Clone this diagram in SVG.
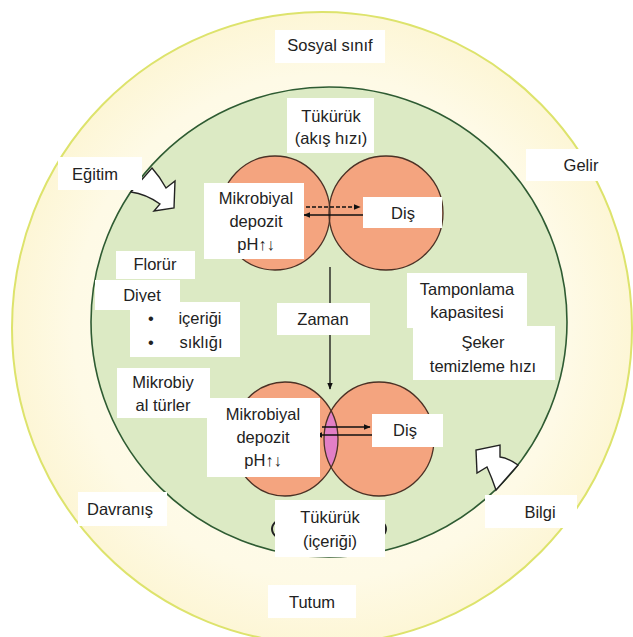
<svg xmlns="http://www.w3.org/2000/svg" width="633" height="637" viewBox="0 0 633 637">
<defs>
  <radialGradient id="yg" cx="50%" cy="50%" r="50%">
    <stop offset="0" stop-color="#fffdf2"/>
    <stop offset="0.8" stop-color="#fefae6"/>
    <stop offset="1" stop-color="#fdf6d6"/>
  </radialGradient>
  <marker id="ah" viewBox="0 0 10 10" refX="9" refY="5" markerWidth="7" markerHeight="7" orient="auto" markerUnits="userSpaceOnUse">
    <path d="M0,1 L10,5 L0,9 Z" fill="#111"/>
  </marker>
  <clipPath id="clipL"><ellipse cx="285" cy="439" rx="53" ry="57"/></clipPath>
</defs>
<style>
  .box{fill:#ffffff}
  .t{font-family:"Liberation Sans",Arial,sans-serif;font-size:16.5px;fill:#222222;text-anchor:middle}
  .orf{fill:#f4a47f}
  .ors{fill:none;stroke:#4b3125;stroke-width:1.3}
  .conn{stroke:#111;stroke-width:1.3;fill:none}
  .blk{fill:#ffffff;stroke:#222;stroke-width:1.4;stroke-linejoin:miter}
</style>

<rect width="633" height="637" fill="#ffffff"/>
<g id="outer-ring">
  <ellipse cx="322" cy="328" rx="310" ry="316" fill="url(#yg)" stroke="#dde36c" stroke-width="2"/>
</g>
<g id="inner-ring">
  <ellipse cx="329" cy="322" rx="238" ry="235" fill="#dceac4" stroke="#2e5b32" stroke-width="1.6"/>
</g>

<g id="circles-top">
  <ellipse class="orf" cx="275" cy="213" rx="55" ry="57"/>
  <ellipse class="orf" cx="386" cy="213" rx="57" ry="57"/>
  <ellipse class="ors" cx="275" cy="213" rx="55" ry="57"/>
  <ellipse class="ors" cx="386" cy="213" rx="57" ry="57"/>
</g>
<g id="circles-bottom">
  <ellipse class="orf" cx="285" cy="439" rx="53" ry="57"/>
  <ellipse class="orf" cx="379" cy="439" rx="55" ry="57"/>
  <ellipse cx="379" cy="439" rx="55" ry="57" fill="#e27fc6" clip-path="url(#clipL)"/>
  <ellipse class="ors" cx="285" cy="439" rx="53" ry="57"/>
  <ellipse class="ors" cx="379" cy="439" rx="55" ry="57"/>
</g>
<g id="saliva-outline">
  <ellipse cx="329" cy="529" rx="57" ry="20" fill="none" stroke="#222" stroke-width="2"/>
</g>

<g id="connectors">
  <line class="conn" x1="306" y1="207" x2="360" y2="207" stroke-dasharray="4 2" marker-end="url(#ah)"/>
  <line class="conn" x1="363" y1="215" x2="304" y2="215" stroke-width="1.7" marker-end="url(#ah)"/>
  <line class="conn" x1="322" y1="427" x2="370" y2="427" marker-end="url(#ah)"/>
  <line class="conn" x1="372" y1="435" x2="316" y2="435" stroke-width="1.8" marker-end="url(#ah)"/>
  <line class="conn" x1="330" y1="267" x2="330" y2="389" stroke-width="1.1" marker-end="url(#ah)"/>
  <path class="blk" d="M152,168 Q160,177 166,188 L175,181 L174,208 L154,211 L160,204 Q146,194 131,192 Z"/>
  <path class="blk" d="M518,465 Q508,458 500,457 L500,445 L476,450 L477,473 L487,467 Q492,478 496,490 Z"/>
</g>

<g id="n-sosyal">
  <rect class="box" x="275" y="30" width="110" height="33"/>
  <text class="t" x="330" y="51">Sosyal sınıf</text>
</g>
<g id="n-tukuruk-akis">
  <rect class="box" x="287" y="98" width="87" height="55"/>
  <text class="t" x="331" y="122">Tükürük</text>
  <text class="t" x="331" y="144">(akış hızı)</text>
</g>
<g id="n-egitim">
  <rect class="box" x="58" y="157" width="84" height="33"/>
  <text class="t" x="95" y="180">Eğitim</text>
</g>
<g id="n-gelir">
  <rect class="box" x="526" y="149" width="86" height="32"/>
  <text class="t" x="581" y="171">Gelir</text>
</g>
<g id="n-mikro-top">
  <rect class="box" x="204" y="183" width="100" height="76"/>
  <text class="t" x="256" y="204">Mikrobiyal</text>
  <text class="t" x="256" y="227">depozit</text>
  <text class="t" x="256" y="250">pH↑↓</text>
</g>
<g id="n-dis-top">
  <rect class="box" x="363" y="197" width="79" height="31"/>
  <text class="t" x="403" y="219">Diş</text>
</g>
<g id="n-florur">
  <rect class="box" x="116" y="251" width="79" height="28"/>
  <text class="t" x="155" y="270">Florür</text>
</g>
<g id="n-diyet">
  <rect class="box" x="95" y="280" width="85" height="30"/>
  <text class="t" x="142" y="301">Diyet</text>
</g>
<g id="n-diyet-list">
  <rect class="box" x="130" y="302" width="110" height="55"/>
  <text class="t" x="151" y="324">•</text>
  <text class="t" x="200" y="324">içeriği</text>
  <text class="t" x="151" y="348">•</text>
  <text class="t" x="201" y="348">sıklığı</text>
</g>
<g id="n-zaman">
  <rect class="box" x="277" y="303" width="93" height="32"/>
  <text class="t" x="323" y="325">Zaman</text>
</g>
<g id="n-tampon">
  <rect class="box" x="407" y="273" width="120" height="55"/>
  <text class="t" x="467" y="295">Tamponlama</text>
  <text class="t" x="467" y="318">kapasitesi</text>
</g>
<g id="n-seker">
  <rect class="box" x="413" y="326" width="142" height="54"/>
  <text class="t" x="483" y="348">Şeker</text>
  <text class="t" x="483" y="372">temizleme hızı</text>
</g>
<g id="n-mikro-tur">
  <rect class="box" x="117" y="368" width="93" height="50"/>
  <text class="t" x="163" y="388">Mikrobiy</text>
  <text class="t" x="163" y="411">al türler</text>
</g>
<g id="n-mikro-bottom">
  <rect class="box" x="207" y="398" width="113" height="79"/>
  <text class="t" x="263" y="420">Mikrobiyal</text>
  <text class="t" x="263" y="443">depozit</text>
  <text class="t" x="263" y="466">pH↑↓</text>
</g>
<g id="n-dis-bottom">
  <rect class="box" x="372" y="414" width="71" height="33"/>
  <text class="t" x="405" y="436">Diş</text>
</g>
<g id="n-davranis">
  <rect class="box" x="78" y="492" width="89" height="34"/>
  <text class="t" x="120" y="515">Davranış</text>
</g>
<g id="n-bilgi">
  <rect class="box" x="485" y="495" width="92" height="33"/>
  <text class="t" x="540" y="518">Bilgi</text>
</g>
<g id="n-tukuruk-icerik">
  <rect class="box" x="275" y="500" width="110" height="57"/>
  <text class="t" x="330" y="523">Tükürük</text>
  <text class="t" x="330" y="547">(içeriği)</text>
</g>
<g id="n-tutum">
  <rect class="box" x="268" y="585" width="88" height="33"/>
  <text class="t" x="312" y="608">Tutum</text>
</g>
</svg>
